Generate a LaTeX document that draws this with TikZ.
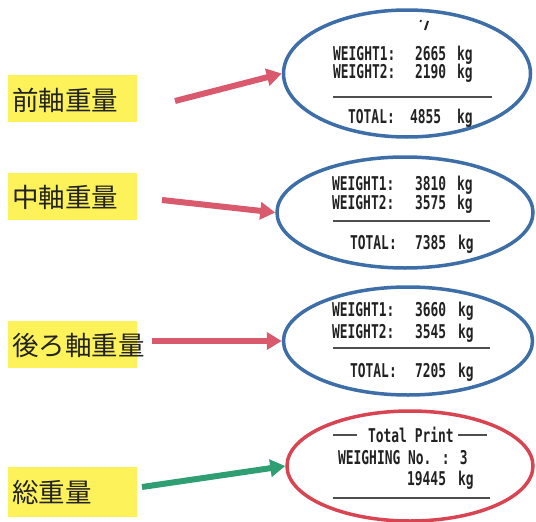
\documentclass[tikz,border=0pt]{standalone}
\usepackage{fontspec}
\newfontfamily\jpfont{Noto Sans CJK JP}
\newfontfamily\prfont{DejaVu Sans Mono}
\usetikzlibrary{arrows.meta,shapes.geometric}
\definecolor{ylw}{HTML}{FDF25A}
\definecolor{eblue}{HTML}{3E6EA8}
\definecolor{ered}{HTML}{D94452}
\definecolor{arred}{HTML}{D95A6C}
\definecolor{argreen}{HTML}{2F9E72}
\definecolor{ink}{HTML}{222222}
\tikzset{
  ybox/.style={rectangle, fill=ylw, draw=none, minimum width=129pt, minimum height=47pt, inner sep=0pt},
  jp/.style={font=\jpfont\fontsize{26.5}{26.5}\selectfont, text=ink, anchor=west, inner sep=0pt},
  ell/.style={ellipse, draw=#1, line width=3.5pt, inner sep=0pt},
  pr/.style={font=\prfont\bfseries\fontsize{19}{19}\selectfont, text=ink, anchor=base west, inner sep=0pt, xscale=0.68},
  sep/.style={draw=ink!80, line width=1.4pt},
  arr/.style={draw=#1, line width=6pt, -{Triangle[length=15pt,width=17pt]}},
}
\begin{document}
\begin{tikzpicture}[x=1pt,y=-1pt]
\useasboundingbox (0,0) rectangle (536,522);
% labels
\node[ybox] (b1) at (72.5,98.5) {};
\node[jp] (t1) at (12,100) {前軸重量};
\node[ybox] (b2) at (72.5,196) {};
\node[jp] (t2) at (12,197) {中軸重量};
\node[ybox] (b3) at (72.5,344) {};
\node[jp] (t3) at (12,345) {後ろ軸重量};
\node[ybox, minimum height=50pt] (b4) at (72.5,492) {};
\node[jp] (t4) at (12,492) {総重量};
% ellipses
\node[ell=eblue, minimum width=247pt, minimum height=127pt] (e1) at (407,73.5) {};
\node[ell=eblue, minimum width=256pt, minimum height=111pt] (e2) at (405,212.5) {};
\node[ell=eblue, minimum width=249pt, minimum height=108pt] (e3) at (408,341) {};
\node[ell=ered, minimum width=246pt, minimum height=110pt] (e4) at (410,466) {};
% arrows
\coordinate (s1) at (175,101);
\coordinate (s2) at (162,200);
\coordinate (s3) at (152,341);
\coordinate (s4) at (142,487);
\draw[arr=arred] (s1) -- (e1.west);
\draw[arr=arred] (s2) -- (e2.west);
\draw[arr=arred] (s3) -- (e3.west);
\draw[arr=argreen] (s4) -- (e4.west);
% fragment at top of ellipse 1
\draw[ink, line width=1.6pt] (421,20) -- (420.5,22);
\draw[ink, line width=2pt] (428,21) -- (425,30);
% ellipse 1 text
\node[pr] (w11) at (333,60.5) {WEIGHT1:};
\node[pr] (n11) at (415,60.5) {2665};
\node[pr] (k11) at (457,60.5) {kg};
\node[pr] (w12) at (333,78) {WEIGHT2:};
\node[pr] (n12) at (415,78) {2190};
\node[pr] (k12) at (457,78) {kg};
\draw[sep] (333,97) -- (492,97);
\node[pr] (w13) at (348,123) {TOTAL:};
\node[pr] (n13) at (410,123) {4855};
\node[pr] (k13) at (457,123) {kg};
% ellipse 2 text
\node[pr] (w21) at (332,190) {WEIGHT1:};
\node[pr] (n21) at (415,190) {3810};
\node[pr] (k21) at (457,190) {kg};
\node[pr] (w22) at (332,209) {WEIGHT2:};
\node[pr] (n22) at (415,209) {3575};
\node[pr] (k22) at (457,209) {kg};
\draw[sep] (333,221) -- (490,221);
\node[pr] (w23) at (350,249) {TOTAL:};
\node[pr] (n23) at (415,249) {7385};
\node[pr] (k23) at (458,249) {kg};
% ellipse 3 text
\node[pr] (w31) at (332,316) {WEIGHT1:};
\node[pr] (n31) at (415,316) {3660};
\node[pr] (k31) at (458,316) {kg};
\node[pr] (w32) at (332,338) {WEIGHT2:};
\node[pr] (n32) at (415,338) {3545};
\node[pr] (k32) at (458,338) {kg};
\draw[sep] (333,348) -- (490,348);
\node[pr] (w33) at (350,377) {TOTAL:};
\node[pr] (n33) at (415,377) {7205};
\node[pr] (k33) at (458,377) {kg};
% ellipse 4 text
\draw[sep] (333,435) -- (357,435);
\node[pr] (tp) at (368,442) {Total Print};
\draw[sep] (458,435) -- (487,435);
\node[pr] (wn) at (338,464) {WEIGHING No. : 3};
\node[pr] (n41) at (407,485) {19445};
\node[pr] (k41) at (458,485) {kg};
\draw[sep] (333,498) -- (490,498);
\end{tikzpicture}
\end{document}
